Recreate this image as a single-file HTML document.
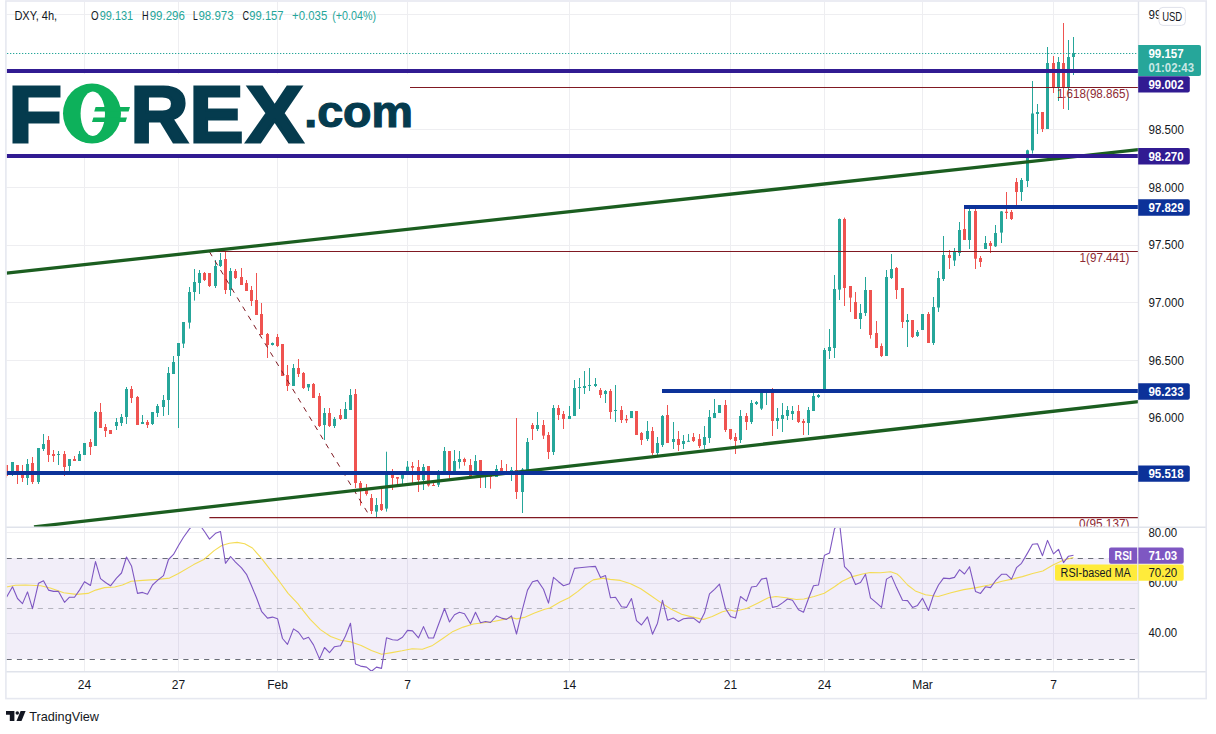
<!DOCTYPE html>
<html lang="en"><head><meta charset="utf-8"><title>DXY 4h chart - FOREX.com</title>
<style>
html,body{margin:0;padding:0;background:#fff;}
body{width:1216px;height:734px;overflow:hidden;position:relative;font-family:"Liberation Sans", "DejaVu Sans", sans-serif;}
svg{position:absolute;left:0;top:0;display:block;}
svg text{font-family:"Liberation Sans", "DejaVu Sans", sans-serif;}
.ax{font-size:12px;fill:#131722;}
.axb{font-size:12px;font-weight:bold;fill:#fff;}
.fib{font-size:12px;fill:#8e2a33;}
.lg{font-size:12px;fill:#131722;}
.lgv{font-size:12px;fill:#26a69a;}
</style></head><body>
<svg width="1216" height="734" viewBox="0 0 1216 734">
<defs>
<clipPath id="cpMain"><rect x="6.5" y="2" width="1132.0" height="525.0"/></clipPath>
<clipPath id="cpRsi"><rect x="6.5" y="527.5" width="1132.0" height="144.0"/></clipPath>
</defs>
<rect x="0" y="0" width="1216" height="734" fill="#ffffff"/>
<g stroke="#eeeef1" stroke-width="1" shape-rendering="auto">
<line x1="6.5" y1="14.5" x2="1138.5" y2="14.5"/>
<line x1="6.5" y1="129.5" x2="1138.5" y2="129.5"/>
<line x1="6.5" y1="187.5" x2="1138.5" y2="187.5"/>
<line x1="6.5" y1="245.5" x2="1138.5" y2="245.5"/>
<line x1="6.5" y1="302.5" x2="1138.5" y2="302.5"/>
<line x1="6.5" y1="360.5" x2="1138.5" y2="360.5"/>
<line x1="6.5" y1="418.5" x2="1138.5" y2="418.5"/>
<line x1="84.5" y1="2" x2="84.5" y2="671.5"/>
<line x1="178.5" y1="2" x2="178.5" y2="671.5"/>
<line x1="277.5" y1="2" x2="277.5" y2="671.5"/>
<line x1="407.5" y1="2" x2="407.5" y2="671.5"/>
<line x1="569.5" y1="2" x2="569.5" y2="671.5"/>
<line x1="730.5" y1="2" x2="730.5" y2="671.5"/>
<line x1="824.5" y1="2" x2="824.5" y2="671.5"/>
<line x1="922.5" y1="2" x2="922.5" y2="671.5"/>
<line x1="1053.5" y1="2" x2="1053.5" y2="671.5"/>
<line x1="6.5" y1="532.5" x2="1138.5" y2="532.5"/>
<line x1="6.5" y1="583.5" x2="1138.5" y2="583.5"/>
<line x1="6.5" y1="633.5" x2="1138.5" y2="633.5"/>
</g>
<rect x="6.5" y="558" width="1132.0" height="101" fill="#7e57c2" fill-opacity="0.1"/>
<g fill="none" stroke-width="1" stroke-dasharray="5.2 5.2">
<line x1="6.5" y1="558.5" x2="1138.5" y2="558.5" stroke="#6a6d78"/>
<line x1="6.5" y1="608.5" x2="1138.5" y2="608.5" stroke="#787b86" stroke-opacity="0.5"/>
<line x1="6.5" y1="659.5" x2="1138.5" y2="659.5" stroke="#6a6d78"/>
</g>

<g clip-path="url(#cpMain)">
<g fill="#ef5350"><rect x="6.00" y="465.0" width="1" height="13.0"/><rect x="17.00" y="465.0" width="1" height="19.0"/><rect x="22.00" y="465.0" width="1" height="17.0"/><rect x="32.00" y="457.0" width="1" height="27.0"/><rect x="48.00" y="436.0" width="1" height="26.0"/><rect x="53.00" y="450.0" width="1" height="12.0"/><rect x="64.00" y="451.0" width="1" height="25.0"/><rect x="74.00" y="456.0" width="1" height="5.0"/><rect x="90.00" y="439.0" width="1" height="16.0"/><rect x="100.00" y="403.0" width="1" height="25.0"/><rect x="105.00" y="424.0" width="1" height="13.0"/><rect x="110.00" y="430.0" width="1" height="4.0"/><rect x="131.00" y="386.0" width="1" height="17.0"/><rect x="137.00" y="396.0" width="1" height="29.0"/><rect x="147.00" y="420.0" width="1" height="8.0"/><rect x="204.00" y="272.0" width="1" height="9.0"/><rect x="209.00" y="273.0" width="1" height="14.0"/><rect x="225.00" y="251.0" width="1" height="43.0"/><rect x="235.00" y="269.0" width="1" height="10.0"/><rect x="241.00" y="268.0" width="1" height="17.0"/><rect x="246.00" y="280.0" width="1" height="11.0"/><rect x="251.00" y="286.0" width="1" height="20.0"/><rect x="256.00" y="273.0" width="1" height="42.0"/><rect x="261.00" y="303.0" width="1" height="32.0"/><rect x="267.00" y="333.0" width="1" height="25.0"/><rect x="277.00" y="334.0" width="1" height="13.0"/><rect x="282.00" y="344.0" width="1" height="32.0"/><rect x="287.00" y="365.0" width="1" height="26.0"/><rect x="298.00" y="359.0" width="1" height="18.0"/><rect x="303.00" y="372.0" width="1" height="17.0"/><rect x="313.00" y="383.0" width="1" height="15.0"/><rect x="319.00" y="393.0" width="1" height="34.0"/><rect x="329.00" y="408.0" width="1" height="19.0"/><rect x="340.00" y="409.0" width="1" height="11.0"/><rect x="355.00" y="389.0" width="1" height="99.0"/><rect x="360.00" y="481.0" width="1" height="24.6"/><rect x="366.00" y="484.0" width="1" height="11.6"/><rect x="371.00" y="494.0" width="1" height="20.0"/><rect x="381.00" y="488.4" width="1" height="22.6"/><rect x="392.00" y="469.0" width="1" height="21.0"/><rect x="397.00" y="477.0" width="1" height="7.7"/><rect x="412.00" y="462.0" width="1" height="21.0"/><rect x="418.00" y="460.0" width="1" height="32.0"/><rect x="428.00" y="466.0" width="1" height="20.6"/><rect x="433.00" y="483.0" width="1" height="3.0"/><rect x="449.00" y="451.0" width="1" height="27.0"/><rect x="464.00" y="457.7" width="1" height="8.0"/><rect x="470.00" y="459.0" width="1" height="17.0"/><rect x="480.00" y="460.0" width="1" height="28.0"/><rect x="490.00" y="472.0" width="1" height="16.7"/><rect x="501.00" y="460.0" width="1" height="13.0"/><rect x="506.00" y="464.0" width="1" height="10.0"/><rect x="516.00" y="418.0" width="1" height="81.0"/><rect x="532.00" y="423.0" width="1" height="17.0"/><rect x="543.00" y="420.0" width="1" height="19.0"/><rect x="548.00" y="432.0" width="1" height="27.0"/><rect x="558.00" y="405.0" width="1" height="15.0"/><rect x="563.00" y="411.0" width="1" height="18.0"/><rect x="600.00" y="388.0" width="1" height="10.0"/><rect x="610.00" y="389.0" width="1" height="30.0"/><rect x="621.00" y="406.0" width="1" height="17.0"/><rect x="626.00" y="415.0" width="1" height="8.0"/><rect x="636.00" y="411.0" width="1" height="24.0"/><rect x="641.00" y="432.0" width="1" height="13.0"/><rect x="652.00" y="427.0" width="1" height="28.0"/><rect x="667.00" y="405.0" width="1" height="38.0"/><rect x="678.00" y="431.0" width="1" height="20.0"/><rect x="693.00" y="433.0" width="1" height="9.0"/><rect x="699.00" y="434.0" width="1" height="14.0"/><rect x="725.00" y="400.0" width="1" height="32.0"/><rect x="730.00" y="429.0" width="1" height="11.0"/><rect x="735.00" y="433.0" width="1" height="21.0"/><rect x="746.00" y="413.0" width="1" height="17.0"/><rect x="772.00" y="388.0" width="1" height="48.0"/><rect x="798.00" y="405.0" width="1" height="18.0"/><rect x="803.00" y="419.0" width="1" height="16.0"/><rect x="844.00" y="217.6" width="1" height="88.4"/><rect x="850.00" y="286.0" width="1" height="26.0"/><rect x="855.00" y="292.0" width="1" height="27.0"/><rect x="870.00" y="290.0" width="1" height="48.6"/><rect x="876.00" y="321.0" width="1" height="27.0"/><rect x="881.00" y="343.4" width="1" height="13.6"/><rect x="896.00" y="267.0" width="1" height="32.0"/><rect x="902.00" y="288.0" width="1" height="40.0"/><rect x="912.00" y="320.0" width="1" height="18.0"/><rect x="928.00" y="312.0" width="1" height="31.0"/><rect x="949.00" y="250.0" width="1" height="19.0"/><rect x="964.00" y="208.3" width="1" height="31.7"/><rect x="975.00" y="209.0" width="1" height="60.0"/><rect x="980.00" y="256.0" width="1" height="11.0"/><rect x="990.00" y="241.0" width="1" height="12.0"/><rect x="1006.00" y="192.0" width="1" height="27.0"/><rect x="1011.00" y="210.0" width="1" height="10.0"/><rect x="1016.00" y="178.0" width="1" height="27.0"/><rect x="1042.00" y="112.0" width="1" height="20.0"/><rect x="1053.00" y="56.0" width="1" height="37.0"/><rect x="1063.00" y="23.0" width="1" height="86.0"/><rect x="5.00" y="465.0" width="3" height="11.0"/><rect x="16.00" y="465.0" width="3" height="9.0"/><rect x="21.00" y="475.0" width="3" height="3.0"/><rect x="31.00" y="463.0" width="3" height="19.0"/><rect x="47.00" y="440.0" width="3" height="15.0"/><rect x="52.00" y="454.0" width="3" height="2.0"/><rect x="63.00" y="454.0" width="3" height="13.0"/><rect x="73.00" y="459.0" width="3" height="2.0"/><rect x="89.00" y="442.0" width="3" height="5.0"/><rect x="99.00" y="412.0" width="3" height="16.0"/><rect x="104.00" y="427.0" width="3" height="4.0"/><rect x="109.00" y="430.0" width="3" height="4.0"/><rect x="130.00" y="389.0" width="3" height="9.0"/><rect x="136.00" y="397.0" width="3" height="28.0"/><rect x="146.00" y="422.0" width="3" height="3.0"/><rect x="203.00" y="273.0" width="3" height="7.0"/><rect x="208.00" y="273.0" width="3" height="13.0"/><rect x="224.00" y="259.0" width="3" height="31.0"/><rect x="234.00" y="271.0" width="3" height="7.0"/><rect x="240.00" y="277.0" width="3" height="8.0"/><rect x="245.00" y="283.0" width="3" height="8.0"/><rect x="250.00" y="290.0" width="3" height="11.0"/><rect x="255.00" y="300.0" width="3" height="15.0"/><rect x="260.00" y="314.0" width="3" height="21.0"/><rect x="266.00" y="334.0" width="3" height="11.0"/><rect x="276.00" y="337.0" width="3" height="9.0"/><rect x="281.00" y="344.0" width="3" height="32.0"/><rect x="286.00" y="375.0" width="3" height="11.0"/><rect x="297.00" y="368.0" width="3" height="6.0"/><rect x="302.00" y="373.0" width="3" height="15.0"/><rect x="312.00" y="384.0" width="3" height="14.0"/><rect x="318.00" y="396.0" width="3" height="30.0"/><rect x="328.00" y="413.0" width="3" height="13.0"/><rect x="339.00" y="415.0" width="3" height="4.0"/><rect x="354.00" y="394.0" width="3" height="89.0"/><rect x="359.00" y="483.0" width="3" height="5.4"/><rect x="365.00" y="488.4" width="3" height="5.6"/><rect x="370.00" y="498.0" width="3" height="13.0"/><rect x="380.00" y="504.0" width="3" height="6.0"/><rect x="391.00" y="472.0" width="3" height="6.0"/><rect x="396.00" y="477.0" width="3" height="1.7"/><rect x="411.00" y="466.0" width="3" height="1.7"/><rect x="417.00" y="467.0" width="3" height="13.0"/><rect x="427.00" y="466.0" width="3" height="19.4"/><rect x="432.00" y="485.0" width="3" height="1.0"/><rect x="448.00" y="451.0" width="3" height="24.0"/><rect x="463.00" y="459.0" width="3" height="3.0"/><rect x="469.00" y="465.0" width="3" height="11.0"/><rect x="479.00" y="460.0" width="3" height="17.0"/><rect x="489.00" y="473.0" width="3" height="4.0"/><rect x="500.00" y="468.0" width="3" height="5.0"/><rect x="505.00" y="472.0" width="3" height="2.0"/><rect x="515.00" y="470.0" width="3" height="22.0"/><rect x="531.00" y="425.0" width="3" height="4.0"/><rect x="542.00" y="425.0" width="3" height="10.6"/><rect x="547.00" y="435.0" width="3" height="17.0"/><rect x="557.00" y="408.0" width="3" height="7.0"/><rect x="562.00" y="414.0" width="3" height="5.0"/><rect x="599.00" y="390.0" width="3" height="5.0"/><rect x="609.00" y="391.0" width="3" height="21.0"/><rect x="620.00" y="410.0" width="3" height="10.0"/><rect x="625.00" y="419.0" width="3" height="1.4"/><rect x="635.00" y="411.0" width="3" height="24.0"/><rect x="640.00" y="433.0" width="3" height="7.0"/><rect x="651.00" y="431.0" width="3" height="22.0"/><rect x="666.00" y="415.0" width="3" height="28.0"/><rect x="677.00" y="439.0" width="3" height="6.0"/><rect x="692.00" y="437.0" width="3" height="4.0"/><rect x="698.00" y="439.0" width="3" height="7.0"/><rect x="724.00" y="405.0" width="3" height="25.0"/><rect x="729.00" y="429.0" width="3" height="10.0"/><rect x="734.00" y="437.0" width="3" height="4.0"/><rect x="745.00" y="416.0" width="3" height="6.0"/><rect x="771.00" y="389.0" width="3" height="32.0"/><rect x="797.00" y="411.0" width="3" height="11.0"/><rect x="802.00" y="421.0" width="3" height="2.0"/><rect x="843.00" y="219.0" width="3" height="69.0"/><rect x="849.00" y="286.0" width="3" height="11.6"/><rect x="854.00" y="302.0" width="3" height="17.0"/><rect x="869.00" y="290.0" width="3" height="45.0"/><rect x="875.00" y="333.0" width="3" height="15.0"/><rect x="880.00" y="346.0" width="3" height="10.0"/><rect x="895.00" y="268.0" width="3" height="22.0"/><rect x="901.00" y="288.0" width="3" height="34.0"/><rect x="911.00" y="320.0" width="3" height="17.0"/><rect x="927.00" y="314.0" width="3" height="29.0"/><rect x="948.00" y="255.0" width="3" height="3.0"/><rect x="963.00" y="229.0" width="3" height="11.0"/><rect x="974.00" y="211.0" width="3" height="47.7"/><rect x="979.00" y="258.0" width="3" height="4.0"/><rect x="989.00" y="243.0" width="3" height="3.0"/><rect x="1005.00" y="211.7" width="3" height="1.3"/><rect x="1010.00" y="212.0" width="3" height="7.0"/><rect x="1015.00" y="182.0" width="3" height="10.0"/><rect x="1041.00" y="112.0" width="3" height="17.0"/><rect x="1052.00" y="63.0" width="3" height="24.0"/><rect x="1062.00" y="63.0" width="3" height="24.0"/></g>
<g fill="#26a69a"><rect x="12.00" y="462.0" width="1" height="14.0"/><rect x="27.00" y="459.0" width="1" height="26.0"/><rect x="38.00" y="448.0" width="1" height="36.0"/><rect x="43.00" y="434.0" width="1" height="17.0"/><rect x="58.00" y="451.0" width="1" height="14.0"/><rect x="69.00" y="459.0" width="1" height="12.0"/><rect x="79.00" y="451.0" width="1" height="10.0"/><rect x="84.00" y="443.0" width="1" height="12.0"/><rect x="95.00" y="411.0" width="1" height="35.0"/><rect x="116.00" y="418.0" width="1" height="12.0"/><rect x="121.00" y="414.0" width="1" height="12.0"/><rect x="126.00" y="387.0" width="1" height="37.0"/><rect x="142.00" y="415.0" width="1" height="9.0"/><rect x="152.00" y="412.0" width="1" height="13.0"/><rect x="157.00" y="404.0" width="1" height="13.0"/><rect x="163.00" y="395.0" width="1" height="21.0"/><rect x="168.00" y="367.0" width="1" height="48.0"/><rect x="173.00" y="356.0" width="1" height="18.0"/><rect x="178.00" y="343.0" width="1" height="85.0"/><rect x="183.00" y="322.0" width="1" height="26.0"/><rect x="189.00" y="287.0" width="1" height="41.6"/><rect x="194.00" y="269.0" width="1" height="31.6"/><rect x="199.00" y="270.0" width="1" height="24.0"/><rect x="215.00" y="260.0" width="1" height="28.0"/><rect x="220.00" y="253.0" width="1" height="14.0"/><rect x="230.00" y="268.0" width="1" height="28.0"/><rect x="272.00" y="342.5" width="1" height="3.0"/><rect x="293.00" y="364.0" width="1" height="22.0"/><rect x="308.00" y="384.0" width="1" height="7.0"/><rect x="324.00" y="408.0" width="1" height="32.0"/><rect x="334.00" y="417.0" width="1" height="11.0"/><rect x="345.00" y="402.0" width="1" height="17.0"/><rect x="350.00" y="389.0" width="1" height="21.0"/><rect x="376.00" y="498.0" width="1" height="19.0"/><rect x="386.00" y="451.7" width="1" height="59.9"/><rect x="402.00" y="473.0" width="1" height="11.0"/><rect x="407.00" y="461.0" width="1" height="12.0"/><rect x="423.00" y="464.0" width="1" height="26.0"/><rect x="438.00" y="470.0" width="1" height="17.0"/><rect x="444.00" y="447.0" width="1" height="26.0"/><rect x="454.00" y="450.0" width="1" height="23.0"/><rect x="459.00" y="451.0" width="1" height="17.6"/><rect x="475.00" y="455.0" width="1" height="20.0"/><rect x="485.00" y="472.0" width="1" height="16.0"/><rect x="496.00" y="465.0" width="1" height="12.0"/><rect x="511.00" y="467.0" width="1" height="14.0"/><rect x="522.00" y="468.0" width="1" height="45.0"/><rect x="527.00" y="438.0" width="1" height="33.0"/><rect x="537.00" y="412.0" width="1" height="19.0"/><rect x="553.00" y="405.0" width="1" height="50.0"/><rect x="569.00" y="406.0" width="1" height="13.0"/><rect x="574.00" y="380.0" width="1" height="36.0"/><rect x="579.00" y="378.0" width="1" height="31.0"/><rect x="584.00" y="371.0" width="1" height="23.0"/><rect x="589.00" y="368.0" width="1" height="23.0"/><rect x="595.00" y="378.0" width="1" height="9.0"/><rect x="605.00" y="390.0" width="1" height="13.0"/><rect x="615.00" y="385.0" width="1" height="37.0"/><rect x="631.00" y="411.0" width="1" height="7.0"/><rect x="647.00" y="421.0" width="1" height="20.0"/><rect x="657.00" y="437.0" width="1" height="18.0"/><rect x="662.00" y="415.0" width="1" height="32.0"/><rect x="673.00" y="422.0" width="1" height="27.0"/><rect x="683.00" y="435.0" width="1" height="14.0"/><rect x="688.00" y="434.0" width="1" height="7.6"/><rect x="704.00" y="426.0" width="1" height="23.0"/><rect x="709.00" y="410.0" width="1" height="33.0"/><rect x="714.00" y="399.0" width="1" height="19.0"/><rect x="719.00" y="405.0" width="1" height="8.0"/><rect x="740.00" y="410.0" width="1" height="33.0"/><rect x="751.00" y="400.0" width="1" height="24.0"/><rect x="756.00" y="401.0" width="1" height="4.0"/><rect x="761.00" y="391.0" width="1" height="19.0"/><rect x="766.00" y="390.0" width="1" height="15.0"/><rect x="777.00" y="408.0" width="1" height="21.0"/><rect x="782.00" y="403.0" width="1" height="29.0"/><rect x="787.00" y="406.0" width="1" height="14.0"/><rect x="792.00" y="406.0" width="1" height="14.0"/><rect x="808.00" y="407.0" width="1" height="28.0"/><rect x="813.00" y="391.0" width="1" height="20.0"/><rect x="818.00" y="394.0" width="1" height="4.0"/><rect x="824.00" y="348.0" width="1" height="41.0"/><rect x="829.00" y="329.0" width="1" height="30.0"/><rect x="834.00" y="275.0" width="1" height="83.0"/><rect x="839.00" y="218.5" width="1" height="81.5"/><rect x="860.00" y="304.0" width="1" height="25.0"/><rect x="865.00" y="277.0" width="1" height="39.0"/><rect x="886.00" y="270.0" width="1" height="86.0"/><rect x="891.00" y="254.0" width="1" height="25.0"/><rect x="907.00" y="314.0" width="1" height="33.0"/><rect x="917.00" y="330.0" width="1" height="7.0"/><rect x="922.00" y="314.0" width="1" height="16.0"/><rect x="933.00" y="297.0" width="1" height="48.0"/><rect x="938.00" y="271.0" width="1" height="41.0"/><rect x="943.00" y="236.0" width="1" height="45.0"/><rect x="954.00" y="248.0" width="1" height="18.0"/><rect x="959.00" y="222.0" width="1" height="34.0"/><rect x="969.00" y="209.0" width="1" height="40.0"/><rect x="985.00" y="236.0" width="1" height="13.0"/><rect x="995.00" y="225.0" width="1" height="22.0"/><rect x="1001.00" y="211.0" width="1" height="32.0"/><rect x="1021.00" y="178.0" width="1" height="23.0"/><rect x="1027.00" y="149.7" width="1" height="37.3"/><rect x="1032.00" y="81.0" width="1" height="72.6"/><rect x="1037.00" y="104.0" width="1" height="30.0"/><rect x="1047.00" y="47.0" width="1" height="82.0"/><rect x="1058.00" y="57.0" width="1" height="44.0"/><rect x="1068.00" y="40.0" width="1" height="70.0"/><rect x="1073.00" y="37.0" width="1" height="38.0"/><rect x="11.00" y="462.0" width="3" height="13.0"/><rect x="26.00" y="464.0" width="3" height="14.0"/><rect x="37.00" y="448.0" width="3" height="34.0"/><rect x="42.00" y="444.0" width="3" height="5.0"/><rect x="57.00" y="454.0" width="3" height="1.0"/><rect x="68.00" y="459.0" width="3" height="7.0"/><rect x="78.00" y="454.0" width="3" height="7.0"/><rect x="83.00" y="443.0" width="3" height="12.0"/><rect x="94.00" y="412.0" width="3" height="34.0"/><rect x="115.00" y="422.0" width="3" height="4.0"/><rect x="120.00" y="417.0" width="3" height="6.0"/><rect x="125.00" y="389.0" width="3" height="28.0"/><rect x="141.00" y="422.0" width="3" height="2.0"/><rect x="151.00" y="412.0" width="3" height="12.0"/><rect x="156.00" y="406.0" width="3" height="7.0"/><rect x="162.00" y="400.0" width="3" height="7.0"/><rect x="167.00" y="373.0" width="3" height="27.0"/><rect x="172.00" y="362.0" width="3" height="12.0"/><rect x="177.00" y="343.0" width="3" height="13.0"/><rect x="182.00" y="322.0" width="3" height="21.6"/><rect x="188.00" y="292.0" width="3" height="30.6"/><rect x="193.00" y="282.0" width="3" height="10.0"/><rect x="198.00" y="273.0" width="3" height="10.0"/><rect x="214.00" y="266.0" width="3" height="20.0"/><rect x="219.00" y="260.0" width="3" height="6.0"/><rect x="229.00" y="271.0" width="3" height="19.0"/><rect x="271.00" y="343.0" width="3" height="2.0"/><rect x="292.00" y="368.0" width="3" height="18.0"/><rect x="307.00" y="384.0" width="3" height="3.4"/><rect x="323.00" y="413.0" width="3" height="12.0"/><rect x="333.00" y="419.0" width="3" height="7.0"/><rect x="344.00" y="409.0" width="3" height="10.0"/><rect x="349.00" y="395.0" width="3" height="15.0"/><rect x="375.00" y="505.0" width="3" height="6.6"/><rect x="385.00" y="473.0" width="3" height="35.6"/><rect x="401.00" y="473.0" width="3" height="5.7"/><rect x="406.00" y="466.7" width="3" height="6.3"/><rect x="422.00" y="467.0" width="3" height="13.0"/><rect x="437.00" y="475.0" width="3" height="9.7"/><rect x="443.00" y="451.0" width="3" height="22.0"/><rect x="453.00" y="461.0" width="3" height="12.0"/><rect x="458.00" y="459.0" width="3" height="3.0"/><rect x="474.00" y="461.0" width="3" height="14.0"/><rect x="484.00" y="473.0" width="3" height="3.0"/><rect x="495.00" y="469.0" width="3" height="8.0"/><rect x="510.00" y="470.0" width="3" height="2.0"/><rect x="521.00" y="469.5" width="3" height="22.5"/><rect x="526.00" y="442.0" width="3" height="29.0"/><rect x="536.00" y="425.0" width="3" height="4.0"/><rect x="552.00" y="408.0" width="3" height="44.0"/><rect x="568.00" y="416.0" width="3" height="3.0"/><rect x="573.00" y="388.0" width="3" height="28.0"/><rect x="578.00" y="387.0" width="3" height="1.0"/><rect x="583.00" y="386.0" width="3" height="2.0"/><rect x="588.00" y="385.0" width="3" height="1.0"/><rect x="594.00" y="384.0" width="3" height="2.0"/><rect x="604.00" y="391.0" width="3" height="3.0"/><rect x="614.00" y="410.0" width="3" height="1.0"/><rect x="630.00" y="411.0" width="3" height="7.0"/><rect x="646.00" y="431.0" width="3" height="8.0"/><rect x="656.00" y="443.0" width="3" height="10.0"/><rect x="661.00" y="416.0" width="3" height="29.0"/><rect x="672.00" y="439.0" width="3" height="3.0"/><rect x="682.00" y="441.0" width="3" height="3.0"/><rect x="687.00" y="440.8" width="3" height="1.0"/><rect x="703.00" y="437.0" width="3" height="8.0"/><rect x="708.00" y="417.0" width="3" height="21.0"/><rect x="713.00" y="413.0" width="3" height="5.0"/><rect x="718.00" y="405.0" width="3" height="8.0"/><rect x="739.00" y="416.0" width="3" height="24.0"/><rect x="750.00" y="403.0" width="3" height="19.0"/><rect x="755.00" y="402.0" width="3" height="2.0"/><rect x="760.00" y="391.0" width="3" height="17.6"/><rect x="765.00" y="390.0" width="3" height="2.0"/><rect x="776.00" y="418.0" width="3" height="3.0"/><rect x="781.00" y="415.0" width="3" height="4.0"/><rect x="786.00" y="410.0" width="3" height="6.0"/><rect x="791.00" y="411.0" width="3" height="3.0"/><rect x="807.00" y="410.0" width="3" height="13.0"/><rect x="812.00" y="396.0" width="3" height="15.0"/><rect x="817.00" y="395.0" width="3" height="2.0"/><rect x="823.00" y="350.0" width="3" height="39.0"/><rect x="828.00" y="347.0" width="3" height="4.0"/><rect x="833.00" y="289.0" width="3" height="59.0"/><rect x="838.00" y="219.0" width="3" height="70.6"/><rect x="859.00" y="313.0" width="3" height="6.0"/><rect x="864.00" y="290.0" width="3" height="23.0"/><rect x="885.00" y="277.0" width="3" height="79.0"/><rect x="890.00" y="269.0" width="3" height="9.0"/><rect x="906.00" y="320.0" width="3" height="2.0"/><rect x="916.00" y="332.0" width="3" height="4.0"/><rect x="921.00" y="314.0" width="3" height="16.0"/><rect x="932.00" y="307.0" width="3" height="36.0"/><rect x="937.00" y="278.0" width="3" height="29.5"/><rect x="942.00" y="255.0" width="3" height="24.0"/><rect x="953.00" y="252.0" width="3" height="8.5"/><rect x="958.00" y="230.0" width="3" height="23.0"/><rect x="968.00" y="211.0" width="3" height="29.0"/><rect x="984.00" y="243.0" width="3" height="6.0"/><rect x="994.00" y="233.0" width="3" height="13.3"/><rect x="1000.00" y="211.4" width="3" height="21.2"/><rect x="1020.00" y="180.0" width="3" height="12.0"/><rect x="1026.00" y="150.3" width="3" height="30.7"/><rect x="1031.00" y="113.5" width="3" height="36.9"/><rect x="1036.00" y="112.0" width="3" height="2.0"/><rect x="1046.00" y="63.0" width="3" height="66.0"/><rect x="1057.00" y="62.0" width="3" height="25.0"/><rect x="1067.00" y="57.0" width="3" height="30.0"/><rect x="1072.00" y="53.0" width="3" height="4.0"/></g>
</g>
<g clip-path="url(#cpMain)">
<line x1="7" y1="53.5" x2="1138.5" y2="53.5" stroke="#26a69a" stroke-width="1" stroke-dasharray="1.3 1.7"/>
<line x1="209.4" y1="87.5" x2="1138.5" y2="87.5" stroke="#801922" stroke-width="1.15"/>
<line x1="209.4" y1="251.5" x2="1138.5" y2="251.5" stroke="#801922" stroke-width="1.15"/>
<line x1="209.4" y1="517.6" x2="1138.5" y2="517.6" stroke="#801922" stroke-width="1.15"/>
<line x1="209.4" y1="251.7" x2="370.6" y2="517.6" stroke="#801922" stroke-width="1" stroke-dasharray="5.2 5.5"/>
<rect x="7" y="74" width="403" height="80" fill="#ffffff"/>
<text y="142.4" style="font-size:79.6px;font-weight:bold;stroke-linejoin:miter"><tspan x="8.2" textLength="53.8" lengthAdjust="spacingAndGlyphs" style="fill:#053b4e;stroke:#053b4e;stroke-width:3.0px">F</tspan><tspan x="63.0" textLength="58.0" lengthAdjust="spacingAndGlyphs" style="fill:#0db15b;stroke:#0db15b;stroke-width:0.0px">O</tspan><tspan x="130.6" textLength="58.0" lengthAdjust="spacingAndGlyphs" style="fill:#053b4e;stroke:#053b4e;stroke-width:3.0px">R</tspan><tspan x="189.5" textLength="54.0" lengthAdjust="spacingAndGlyphs" style="fill:#053b4e;stroke:#053b4e;stroke-width:3.0px">E</tspan><tspan x="246.2" textLength="56.8" lengthAdjust="spacingAndGlyphs" style="fill:#053b4e;stroke:#053b4e;stroke-width:3.0px">X</tspan><tspan x="304.2" y="126.6" textLength="108.8" lengthAdjust="spacingAndGlyphs" style="font-size:45px;fill:#053b4e;stroke:#053b4e;stroke-width:1.2px">.com</tspan></text>
<ellipse cx="92" cy="113.5" rx="29" ry="30" fill="#0db15b"/>
<ellipse cx="92.8" cy="113.8" rx="12.2" ry="22.2" fill="#ffffff"/>
<path d="M95.6 107 h34.4 l-1.4 4.4 h-34.4 z M93.4 117.5 h33.6 l-1.4 4.4 h-33.6 z" fill="#0db15b"/>
<line x1="6.5" y1="273.1" x2="1138.5" y2="149.7" stroke="#1b5e20" stroke-width="3.3"/>
<line x1="34" y1="526.8" x2="1138.5" y2="401.6" stroke="#1b5e20" stroke-width="3.3"/>
<rect x="6.5" y="69.0" width="1132.0" height="4" fill="#311b92"/>
<rect x="6.5" y="154.0" width="1132.0" height="4" fill="#311b92"/>
<rect x="964.0" y="205.0" width="174.5" height="4" fill="#0c3299"/>
<rect x="662.0" y="389.0" width="476.5" height="4" fill="#0c3299"/>
<rect x="6.5" y="471.0" width="1132.0" height="4" fill="#0c3299"/>
<text class="fib" x="1129.4" y="98.2" text-anchor="end" textLength="72.5" lengthAdjust="spacingAndGlyphs">1.618(98.865)</text>
<text class="fib" x="1129.4" y="262.3" text-anchor="end" textLength="49.8" lengthAdjust="spacingAndGlyphs">1(97.441)</text>
<text class="fib" x="1129.4" y="528.4" text-anchor="end" textLength="50.3" lengthAdjust="spacingAndGlyphs">0(95.137)</text>
</g>
<g clip-path="url(#cpRsi)" fill="none" stroke-linejoin="round">
<polyline stroke="#f4dc55" stroke-width="1.1" points="6.4,587.0 15.3,585.3 25.5,585.0 40.8,585.8 51.0,588.3 63.7,592.7 76.5,594.4 88.0,593.4 95.6,590.1 104.5,587.6 114.7,587.0 122.4,585.0 131.3,581.2 142.8,580.4 158.1,579.4 169.5,578.1 178.5,573.5 193.7,564.6 203.9,559.5 214.1,550.6 221.8,545.5 229.4,543.2 237.1,542.4 244.7,543.7 252.4,548.0 261.3,558.2 270.2,569.7 279.2,581.2 288.1,593.4 298.3,604.1 300.0,606.7 310.2,619.4 320.4,629.6 330.6,636.5 340.8,640.3 351.0,641.9 361.2,645.4 371.4,650.5 381.6,654.3 391.8,652.6 402.0,650.8 412.2,648.7 422.4,649.3 432.6,645.4 442.8,638.5 453.0,631.4 463.2,627.1 473.4,624.0 483.6,622.7 493.7,621.5 503.9,619.4 511.6,617.6 516.7,618.9 524.3,617.4 534.5,613.1 544.7,609.2 549.8,608.0 560.0,602.1 569.0,597.8 577.9,591.4 585.5,585.0 593.2,579.9 603.4,578.1 605.1,578.6 610.2,579.4 620.4,580.4 630.6,583.7 640.8,588.8 651.0,595.7 661.2,602.9 671.4,609.2 681.6,614.3 691.8,616.9 703.2,619.4 712.2,616.4 722.4,611.8 730.0,610.0 735.1,611.3 746.6,608.5 758.1,602.9 768.3,597.8 775.9,596.5 786.1,597.8 796.3,599.5 803.9,599.0 814.1,596.5 824.3,593.2 834.5,586.8 842.2,581.2 852.4,576.6 862.6,574.0 870.2,572.5 880.4,572.8 890.6,571.8 897.0,574.0 900.0,576.6 907.6,585.0 915.3,590.9 925.5,594.7 938.2,596.5 951.0,592.7 963.7,589.6 976.5,587.6 989.2,585.0 1002.0,581.2 1012.2,579.1 1022.4,576.6 1032.6,573.5 1042.8,571.0 1053.0,565.1 1063.2,560.3 1073.4,557.5"/>
<polyline stroke="#7e57c2" stroke-width="1.1" points="6.5,597.2 12.5,586.8 17.5,598.5 22.5,603.6 27.5,591.9 32.5,608.7 38.5,583.2 43.5,580.7 48.5,590.1 53.5,591.4 58.5,591.4 64.5,602.3 69.5,597.2 74.5,597.2 79.5,590.1 84.5,581.7 90.5,585.5 95.5,561.6 100.5,578.6 105.5,582.5 110.5,585.8 116.5,578.1 121.5,573.0 126.5,557.0 131.5,565.9 137.5,593.4 142.5,592.4 147.5,594.2 152.5,585.0 157.5,580.4 163.5,575.6 168.5,559.5 173.5,554.4 178.5,545.5 183.5,537.3 189.5,528.9 194.5,523.8 199.5,524.6 204.5,531.5 209.5,539.1 215.5,533.3 220.5,531.5 225.5,563.3 230.5,556.5 235.5,562.1 241.5,567.9 246.5,574.3 251.5,585.8 256.5,597.8 261.5,611.3 267.5,618.1 272.5,617.1 277.5,618.7 282.5,638.5 287.5,644.4 293.5,628.9 298.5,632.2 303.5,639.3 308.5,637.3 313.5,644.9 319.5,658.9 324.5,647.5 329.5,652.6 334.5,646.7 340.5,645.7 345.5,636.0 350.5,623.2 355.5,664.0 360.5,666.1 366.5,667.1 371.5,671.2 376.5,667.1 381.5,668.4 386.5,637.8 392.5,639.8 397.5,640.3 402.5,637.3 407.5,630.4 412.5,630.9 418.5,637.8 423.5,626.6 428.5,638.0 433.5,638.0 438.5,624.5 444.5,608.5 449.5,622.0 454.5,614.8 459.5,612.3 464.5,613.8 470.5,623.8 475.5,612.3 480.5,622.7 485.5,621.5 490.5,622.5 496.5,615.9 501.5,618.1 506.5,619.4 511.5,615.9 516.5,634.0 522.5,609.2 527.5,590.1 532.5,581.7 537.5,580.4 543.5,589.3 548.5,603.1 553.5,577.4 558.5,581.7 563.5,585.8 569.5,583.7 574.5,568.4 579.5,567.7 584.5,567.2 589.5,566.7 595.5,566.4 600.5,577.4 605.5,575.6 610.5,597.8 615.5,597.2 621.5,606.7 626.5,607.4 631.5,598.5 636.5,620.7 641.5,625.0 647.5,616.9 652.5,634.2 657.5,623.2 662.5,600.3 667.5,620.2 673.5,618.1 678.5,621.5 683.5,618.7 688.5,618.1 693.5,618.1 699.5,622.7 704.5,613.1 709.5,593.9 714.5,589.3 719.5,584.2 725.5,608.5 730.5,616.4 735.5,618.1 740.5,596.5 746.5,601.1 751.5,587.0 756.5,586.3 761.5,579.1 766.5,578.1 772.5,607.4 777.5,606.2 782.5,602.9 787.5,599.0 792.5,600.3 798.5,609.7 803.5,612.3 808.5,598.5 813.5,585.8 818.5,585.0 824.5,555.2 829.5,553.1 834.5,528.9 839.5,522.5 844.5,566.7 850.5,572.8 855.5,584.5 860.5,582.5 865.5,574.3 870.5,597.8 876.5,602.9 881.5,607.4 886.5,579.1 891.5,576.1 896.5,587.6 902.5,600.3 907.5,600.6 912.5,607.4 917.5,605.4 922.5,598.3 928.5,610.5 933.5,595.2 938.5,585.0 943.5,578.1 949.5,578.6 954.5,577.4 959.5,569.7 964.5,574.0 969.5,566.7 975.5,591.4 980.5,593.4 985.5,586.8 990.5,587.6 995.5,580.7 1001.5,574.3 1006.5,574.3 1011.5,579.1 1016.5,567.7 1021.5,563.3 1027.5,553.1 1032.5,544.2 1037.5,543.7 1042.5,555.7 1047.5,540.4 1053.5,553.9 1058.5,549.3 1063.5,562.6 1068.5,556.2 1073.5,555.2"/>
</g>
<g stroke="#e0e3eb" stroke-width="1.4" fill="none">
<line x1="6" y1="527.3" x2="1206" y2="527.3"/>
<line x1="6" y1="671.7" x2="1206" y2="671.7"/>
<line x1="1138.5" y1="1" x2="1138.5" y2="698.5"/>
</g>
<rect x="5.9" y="1" width="1200.3" height="697.6" fill="none" stroke="#e6e8f0" stroke-width="1.6"/>
<text class="ax" x="1148.5" y="18.6" textLength="35.4" lengthAdjust="spacingAndGlyphs">99.500</text>
<text class="ax" x="1148.5" y="133.8" textLength="35.4" lengthAdjust="spacingAndGlyphs">98.500</text>
<text class="ax" x="1148.5" y="191.5" textLength="35.4" lengthAdjust="spacingAndGlyphs">98.000</text>
<text class="ax" x="1148.5" y="249.2" textLength="35.4" lengthAdjust="spacingAndGlyphs">97.500</text>
<text class="ax" x="1148.5" y="306.9" textLength="35.4" lengthAdjust="spacingAndGlyphs">97.000</text>
<text class="ax" x="1148.5" y="364.6" textLength="35.4" lengthAdjust="spacingAndGlyphs">96.500</text>
<text class="ax" x="1148.5" y="422.3" textLength="35.4" lengthAdjust="spacingAndGlyphs">96.000</text>
<text class="ax" x="1148.5" y="537.0" textLength="28.6" lengthAdjust="spacingAndGlyphs">80.00</text>
<text class="ax" x="1148.5" y="587.3" textLength="28.6" lengthAdjust="spacingAndGlyphs">60.00</text>
<text class="ax" x="1148.5" y="637.3" textLength="28.6" lengthAdjust="spacingAndGlyphs">40.00</text>
<rect x="1159" y="7.4" width="26.4" height="18" rx="4" fill="#fff" stroke="#dfe1ea" stroke-width="1"/>
<text class="ax" x="1172.2" y="20.6" text-anchor="middle" textLength="20" lengthAdjust="spacingAndGlyphs">USD</text>
<path d="M1138.2 45 h60.8 a2 2 0 0 1 2 2 v27 a2 2 0 0 1 -2 2 h-60.8 z" fill="#26a69a"/>
<text class="axb" x="1148.4" y="58.0" textLength="35.3" lengthAdjust="spacingAndGlyphs">99.157</text>
<text class="axb" x="1148.4" y="71.6" fill-opacity="0.75" style="fill-opacity:.75" textLength="45.6" lengthAdjust="spacingAndGlyphs">01:02:43</text>
<path d="M1138.2 76.2 h49.6 a2 2 0 0 1 2 2 v12.4 a2 2 0 0 1 -2 2 h-49.6 z" fill="#311b92"/>
<text class="axb" x="1148.4" y="88.7" textLength="35.3" lengthAdjust="spacingAndGlyphs">99.002</text>
<path d="M1138.2 148.1 h49.6 a2 2 0 0 1 2 2 v12.4 a2 2 0 0 1 -2 2 h-49.6 z" fill="#311b92"/>
<text class="axb" x="1148.4" y="160.6" textLength="35.3" lengthAdjust="spacingAndGlyphs">98.270</text>
<path d="M1138.2 199.3 h49.6 a2 2 0 0 1 2 2 v12.4 a2 2 0 0 1 -2 2 h-49.6 z" fill="#0c3299"/>
<text class="axb" x="1148.4" y="211.8" textLength="35.3" lengthAdjust="spacingAndGlyphs">97.829</text>
<path d="M1138.2 383.3 h49.6 a2 2 0 0 1 2 2 v12.4 a2 2 0 0 1 -2 2 h-49.6 z" fill="#0c3299"/>
<text class="axb" x="1148.4" y="395.8" textLength="35.3" lengthAdjust="spacingAndGlyphs">96.233</text>
<path d="M1138.2 465.4 h49.6 a2 2 0 0 1 2 2 v12.4 a2 2 0 0 1 -2 2 h-49.6 z" fill="#0c3299"/>
<text class="axb" x="1148.4" y="477.9" textLength="35.3" lengthAdjust="spacingAndGlyphs">95.518</text>
<path d="M1111 547.4 h26.2 v16.4 h-26.2 a2 2 0 0 1 -2 -2 v-12.4 a2 2 0 0 1 2 -2 z" fill="#7e57c2"/>
<path d="M1138.4 547.4 h43.3 a2 2 0 0 1 2 2 v12.4 a2 2 0 0 1 -2 2 h-43.3 z" fill="#7e57c2"/>
<text class="axb" x="1114.6" y="560.0" textLength="17.4" lengthAdjust="spacingAndGlyphs">RSI</text>
<text class="axb" x="1148.4" y="560.0" textLength="28.8" lengthAdjust="spacingAndGlyphs">71.03</text>
<path d="M1057 564.4 h80.2 v16.4 h-80.2 a2 2 0 0 1 -2 -2 v-12.4 a2 2 0 0 1 2 -2 z" fill="#ffeb3b"/>
<path d="M1138.4 564.4 h43.3 a2 2 0 0 1 2 2 v12.4 a2 2 0 0 1 -2 2 h-43.3 z" fill="#ffeb3b"/>
<text class="ax" x="1060.6" y="577.0" textLength="70.2" lengthAdjust="spacingAndGlyphs">RSI-based MA</text>
<text class="ax" x="1148.4" y="577.0" textLength="28.8" lengthAdjust="spacingAndGlyphs">70.20</text>
<text class="ax" x="84.5" y="689.2" text-anchor="middle">24</text>
<text class="ax" x="178.5" y="689.2" text-anchor="middle">27</text>
<text class="ax" x="277.5" y="689.2" text-anchor="middle">Feb</text>
<text class="ax" x="407.5" y="689.2" text-anchor="middle">7</text>
<text class="ax" x="569.5" y="689.2" text-anchor="middle">14</text>
<text class="ax" x="730.5" y="689.2" text-anchor="middle">21</text>
<text class="ax" x="824.5" y="689.2" text-anchor="middle">24</text>
<text class="ax" x="922.5" y="689.2" text-anchor="middle">Mar</text>
<text class="ax" x="1053.5" y="689.2" text-anchor="middle">7</text>
<text class="lg" x="14.4" y="20.1" textLength="42.8" lengthAdjust="spacingAndGlyphs">DXY, 4h,</text>
<text class="lg" y="20.1"><tspan class="lg" x="91.1" textLength="7.6" lengthAdjust="spacingAndGlyphs">O</tspan><tspan class="lgv" x="99.7" textLength="33.5" lengthAdjust="spacingAndGlyphs">99.131</tspan> <tspan class="lg" x="142.1" textLength="6.6" lengthAdjust="spacingAndGlyphs">H</tspan><tspan class="lgv" x="149.7" textLength="35.2" lengthAdjust="spacingAndGlyphs">99.296</tspan> <tspan class="lg" x="193.1" textLength="4.8" lengthAdjust="spacingAndGlyphs">L</tspan><tspan class="lgv" x="198.4" textLength="35.2" lengthAdjust="spacingAndGlyphs">98.973</tspan> <tspan class="lg" x="242.4" textLength="6.6" lengthAdjust="spacingAndGlyphs">C</tspan><tspan class="lgv" x="249.3" textLength="34.3" lengthAdjust="spacingAndGlyphs">99.157</tspan> <tspan class="lgv" x="292.1" textLength="35.2" lengthAdjust="spacingAndGlyphs">+0.035</tspan> <tspan class="lgv" x="332.2" textLength="43.8" lengthAdjust="spacingAndGlyphs">(+0.04%)</tspan></text>
<g fill="#131722">
<path d="M6 711.1 h8.4 v9.8 h-4.6 v-6.1 h-3.8 z"/>
<circle cx="17.3" cy="712.9" r="1.75"/>
<path d="M20.6 711.1 h5 l-4.1 9.8 h-5 z"/>
</g>
<text x="29.2" y="721" style="font-size:12.6px;fill:#131722" textLength="69.8" lengthAdjust="spacingAndGlyphs">TradingView</text>
</svg>
</body></html>
